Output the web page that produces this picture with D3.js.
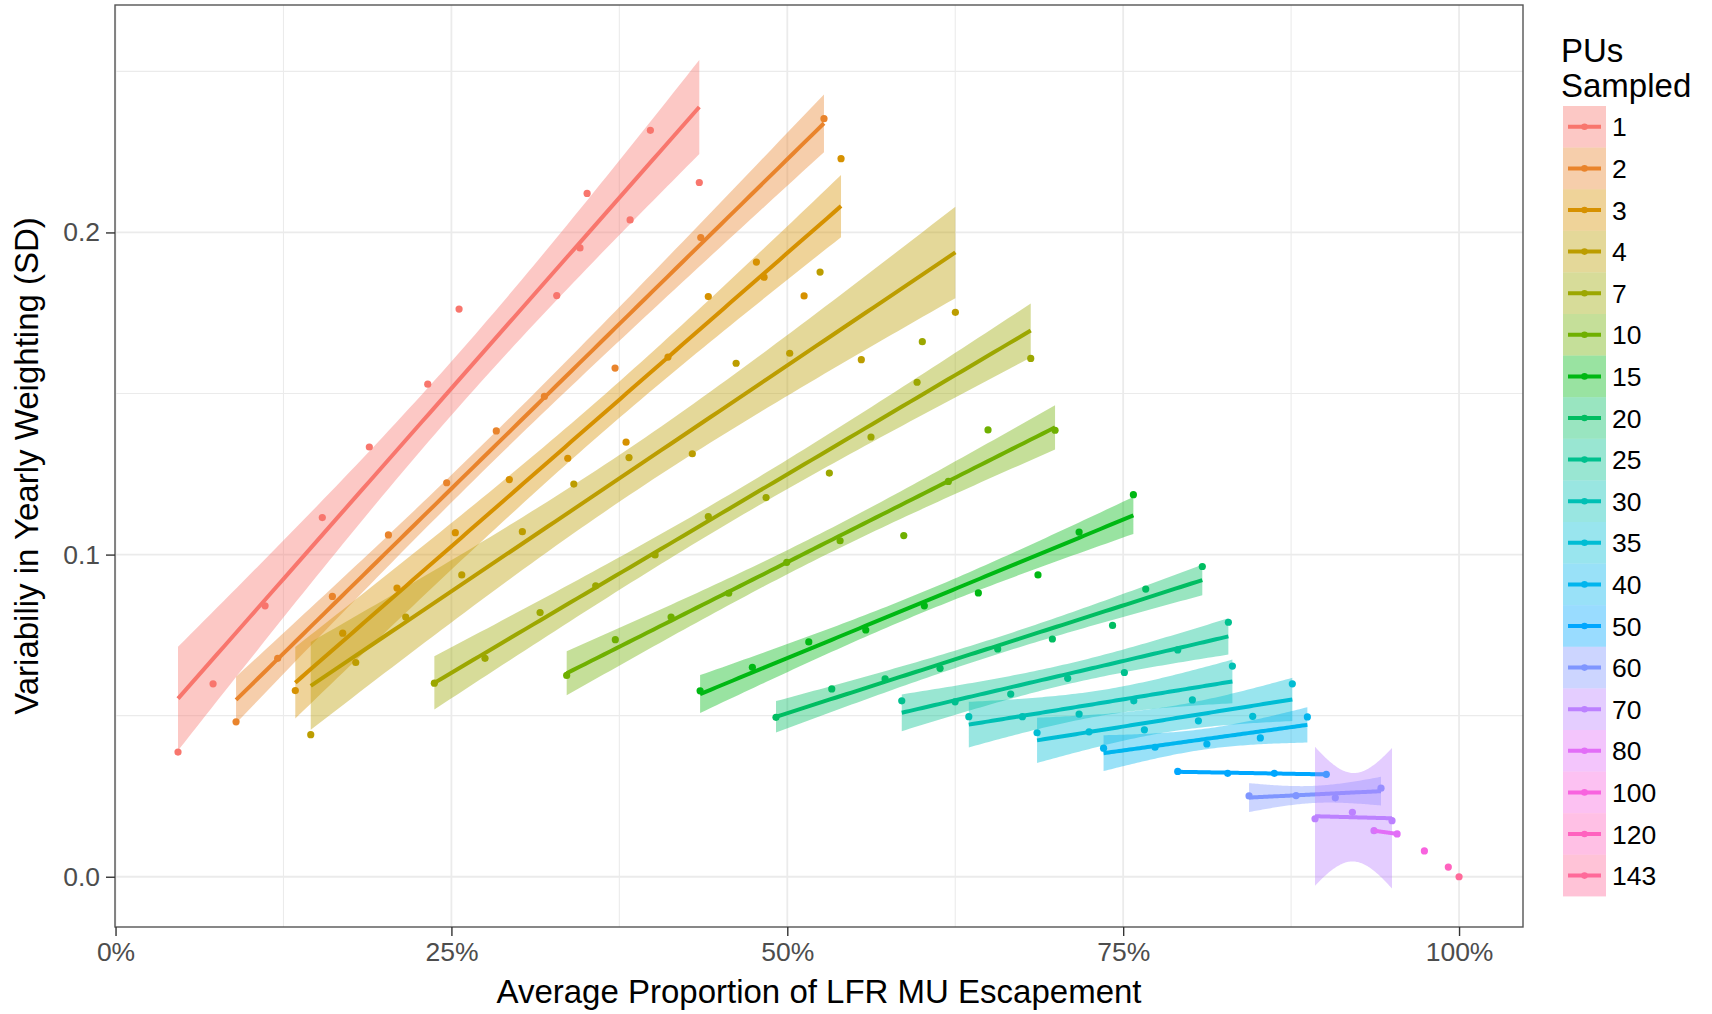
<!DOCTYPE html>
<html>
<head>
<meta charset="utf-8">
<script src="https://cdn.jsdelivr.net/npm/d3@7"></script>
<style>
body { margin: 0; background: #fff; }
text { font-family: "Liberation Sans", Arial, Helvetica, sans-serif; }
</style>
</head>
<body>
<div id="chart"></div>
<script>
// PUs sampled groups
var groups = ["1", "2", "3", "4", "7", "10", "15", "20", "25", "30", "35", "40", "50", "60", "70", "80", "100", "120", "143"];

// average proportion of LFR MU escapement, one array per group
var xByGroup = [
    [0.0465, 0.0726, 0.1113, 0.1539, 0.1889, 0.2324, 0.2557, 0.3284, 0.3457, 0.3510, 0.3830, 0.3981, 0.4345],
    [0.0897, 0.1207, 0.1614, 0.2031, 0.2465, 0.2834, 0.3192, 0.3718, 0.4356, 0.5273],
    [0.1338, 0.1691, 0.2095, 0.2529, 0.2931, 0.3366, 0.3800, 0.4112, 0.4412, 0.4770, 0.4827, 0.5125, 0.5400],
    [0.1453, 0.1788, 0.2160, 0.2577, 0.3028, 0.3411, 0.3822, 0.4293, 0.4619, 0.5018, 0.5244, 0.5551, 0.6251],
    [0.2373, 0.2750, 0.3160, 0.3574, 0.4016, 0.4412, 0.4842, 0.5313, 0.5623, 0.5966, 0.6005, 0.6812],
    [0.3358, 0.3720, 0.4135, 0.4564, 0.4996, 0.5393, 0.5867, 0.6199, 0.6494, 0.6993],
    [0.4351, 0.4740, 0.5160, 0.5584, 0.6020, 0.6422, 0.6866, 0.7172, 0.7576],
    [0.4916, 0.5331, 0.5728, 0.6137, 0.6566, 0.6973, 0.7421, 0.7668, 0.8089],
    [0.5852, 0.6249, 0.6663, 0.7087, 0.7509, 0.7906, 0.8283],
    [0.6351, 0.6750, 0.7172, 0.7579, 0.8015, 0.8313],
    [0.6859, 0.7246, 0.7658, 0.8060, 0.8464, 0.8759],
    [0.7354, 0.7737, 0.8123, 0.8521, 0.8871],
    [0.7906, 0.8278, 0.8625, 0.9012],
    [0.8437, 0.8787, 0.9079, 0.9419],
    [0.8928, 0.9206, 0.9501],
    [0.9367, 0.9539],
    [0.9742],
    [0.9920],
    [1.0]
];

// variability in yearly weighting (SD), one array per group
var yByGroup = [
    [0.0387, 0.0599, 0.0841, 0.1115, 0.1334, 0.1529, 0.1762, 0.1804, 0.1952, 0.2121, 0.2039, 0.2317, 0.2155],
    [0.0481, 0.0678, 0.0870, 0.1061, 0.1223, 0.1384, 0.1491, 0.1579, 0.1984, 0.2353],
    [0.0578, 0.0756, 0.0896, 0.1068, 0.1233, 0.1299, 0.1349, 0.1613, 0.1801, 0.1908, 0.1861, 0.1803, 0.2229],
    [0.0441, 0.0665, 0.0806, 0.0937, 0.1071, 0.1219, 0.1301, 0.1313, 0.1594, 0.1625, 0.1877, 0.1605, 0.1752],
    [0.0601, 0.0678, 0.0820, 0.0903, 0.0999, 0.1118, 0.1177, 0.1253, 0.1365, 0.1535, 0.1661, 0.1609],
    [0.0625, 0.0736, 0.0806, 0.0880, 0.0976, 0.1043, 0.1059, 0.1227, 0.1387, 0.1386],
    [0.0577, 0.0650, 0.0729, 0.0766, 0.0841, 0.0881, 0.0937, 0.1070, 0.1186],
    [0.0495, 0.0583, 0.0614, 0.0647, 0.0707, 0.0738, 0.0780, 0.0893, 0.0963],
    [0.0546, 0.0543, 0.0567, 0.0616, 0.0634, 0.0704, 0.0790],
    [0.0497, 0.0497, 0.0505, 0.0546, 0.0549, 0.0654],
    [0.0447, 0.0450, 0.0456, 0.0484, 0.0498, 0.0599],
    [0.0399, 0.0402, 0.0412, 0.0431, 0.0496],
    [0.0327, 0.0321, 0.0321, 0.0318],
    [0.0251, 0.0252, 0.0245, 0.0275],
    [0.0180, 0.0200, 0.0174],
    [0.0143, 0.0133],
    [0.0080],
    [0.0030],
    [0.0]
];

var xTicks = [0, 0.25, 0.5, 0.75, 1];
var xMinor = [0.125, 0.375, 0.625, 0.875];
var yTicks = [0, 0.1, 0.2];
var yMinor = [0.05, 0.15, 0.25];

// qt(0.975, df) for df = 1..11
var tCrit = [12.706, 4.303, 3.182, 2.776, 2.571, 2.447, 2.365, 2.306, 2.262, 2.228, 2.201];

var width = 1712, height = 1014;
var panel = {left: 115, right: 1523, top: 5, bottom: 927};

// R's hcl() (polar LUV) so colours match ggplot's hue palette
function hclLuv(h, c, l) {
    var hr = h * Math.PI / 180;
    var U = c * Math.cos(hr), V = c * Math.sin(hr);
    var Xn = 95.047, Yn = 100, Zn = 108.883;
    var Y = Yn * Math.pow((l + 16) / 116, 3);
    var den = Xn + 15 * Yn + 3 * Zn;
    var un = 4 * Xn / den, vn = 9 * Yn / den;
    var u = U / (13 * l) + un, v = V / (13 * l) + vn;
    var X = 9 * Y * u / (4 * v);
    var Z = Y * (12 - 3 * u - 20 * v) / (4 * v);
    X /= 100; Y /= 100; Z /= 100;
    var rgb = [
        3.240479 * X - 1.537150 * Y - 0.498535 * Z,
        -0.969256 * X + 1.875992 * Y + 0.041556 * Z,
        0.055648 * X - 0.204043 * Y + 1.057311 * Z
    ].map(function (c) {
        c = c <= 0.0031308 ? 12.92 * c : 1.055 * Math.pow(c, 1 / 2.4) - 0.055;
        return Math.round(Math.max(0, Math.min(1, c)) * 255);
    });
    return d3.rgb(rgb[0], rgb[1], rgb[2]).formatHex();
}

var colors = groups.map(function (g, i) {
    return hclLuv(15 + i * 360 / groups.length, 100, 65);
});

// lm fit with 95% confidence band, like geom_smooth(method = "lm")
function fitGroup(xs, ys) {
    var n = xs.length;
    if (n < 2) return null;
    var mx = d3.mean(xs), my = d3.mean(ys);
    var sxx = d3.sum(xs, function (x) { return (x - mx) * (x - mx); });
    var sxy = d3.sum(xs, function (x, i) { return (x - mx) * (ys[i] - my); });
    var b = sxy / sxx, a = my - b * mx;
    var s = null;
    if (n > 2) {
        var rss = d3.sum(xs, function (x, i) { var r = ys[i] - (a + b * x); return r * r; });
        s = Math.sqrt(rss / (n - 2));
    }
    var lo = d3.min(xs), hi = d3.max(xs);
    var pts = d3.range(80).map(function (k) {
        var x = lo + (hi - lo) * k / 79;
        var f = a + b * x;
        var p = {x: x, y: f};
        if (s !== null) {
            var se = s * Math.sqrt(1 / n + (x - mx) * (x - mx) / sxx);
            var w = tCrit[n - 3] * se;
            p.lo = f - w;
            p.hi = f + w;
        }
        return p;
    });
    return {pts: pts, band: s !== null};
}

var svg = d3.select("#chart").append("svg")
    .attr("width", width)
    .attr("height", height);

svg.append("rect").attr("width", width).attr("height", height).attr("fill", "#fff");

var x = d3.scaleLinear().domain([-0.0004, 1.0476]).range([panel.left, panel.right]);
var y = d3.scaleLinear().domain([-0.0156, 0.2706]).range([panel.bottom, panel.top]);

var grid = svg.append("g");
grid.selectAll(".xminor").data(xMinor).enter().append("line")
    .attr("x1", function (d) { return x(d); }).attr("x2", function (d) { return x(d); })
    .attr("y1", panel.top).attr("y2", panel.bottom)
    .attr("stroke", "#ebebeb").attr("stroke-width", 1.1);
grid.selectAll(".yminor").data(yMinor).enter().append("line")
    .attr("y1", function (d) { return y(d); }).attr("y2", function (d) { return y(d); })
    .attr("x1", panel.left).attr("x2", panel.right)
    .attr("stroke", "#ebebeb").attr("stroke-width", 1.1);
grid.selectAll(".xmajor").data(xTicks).enter().append("line")
    .attr("x1", function (d) { return x(d); }).attr("x2", function (d) { return x(d); })
    .attr("y1", panel.top).attr("y2", panel.bottom)
    .attr("stroke", "#ebebeb").attr("stroke-width", 1.8);
grid.selectAll(".ymajor").data(yTicks).enter().append("line")
    .attr("y1", function (d) { return y(d); }).attr("y2", function (d) { return y(d); })
    .attr("x1", panel.left).attr("x2", panel.right)
    .attr("stroke", "#ebebeb").attr("stroke-width", 1.8);

var plot = svg.append("g");

// points
groups.forEach(function (g, i) {
    plot.append("g").selectAll("circle")
        .data(xByGroup[i])
        .enter()
        .append("circle")
        .attr("cx", function (d) { return x(d); })
        .attr("cy", function (d, j) { return y(yByGroup[i][j]); })
        .attr("r", 3.6)
        .attr("fill", colors[i]);
});

// smooth: ribbon then line, group by group
var area = d3.area()
    .x(function (d) { return x(d.x); })
    .y0(function (d) { return y(d.lo); })
    .y1(function (d) { return y(d.hi); });
var line = d3.line()
    .x(function (d) { return x(d.x); })
    .y(function (d) { return y(d.y); });

groups.forEach(function (g, i) {
    var fit = fitGroup(xByGroup[i], yByGroup[i]);
    if (!fit) return;
    if (fit.band) {
        plot.append("path")
            .attr("d", area(fit.pts))
            .attr("fill", colors[i])
            .attr("fill-opacity", 0.4);
    }
    plot.append("path")
        .attr("d", line(fit.pts))
        .attr("fill", "none")
        .attr("stroke", colors[i])
        .attr("stroke-width", 4);
});

// panel border
svg.append("rect")
    .attr("x", panel.left).attr("y", panel.top)
    .attr("width", panel.right - panel.left).attr("height", panel.bottom - panel.top)
    .attr("fill", "none").attr("stroke", "#555").attr("stroke-width", 1.4);

// axes
var xAxis = svg.append("g")
    .attr("transform", "translate(0," + panel.bottom + ")")
    .call(d3.axisBottom(x).tickValues(xTicks).tickSize(9).tickPadding(6)
        .tickFormat(function (d) { return Math.round(d * 100) + "%"; }));
var yAxis = svg.append("g")
    .attr("transform", "translate(" + panel.left + ",0)")
    .call(d3.axisLeft(y).tickValues(yTicks).tickSize(9).tickPadding(6)
        .tickFormat(d3.format(".1f")));
[xAxis, yAxis].forEach(function (ax) {
    ax.select(".domain").remove();
    ax.selectAll(".tick line").attr("stroke", "#333").attr("stroke-width", 1.4);
    ax.selectAll(".tick text")
        .attr("fill", "#4d4d4d")
        .style("font-size", "26.5px")
        .style("font-family", "'Liberation Sans', Arial, sans-serif");
});
xAxis.selectAll(".tick text").attr("dy", "0.71em");

svg.append("text")
    .attr("x", (panel.left + panel.right) / 2)
    .attr("y", 1003)
    .attr("text-anchor", "middle")
    .style("font-size", "33px")
    .text("Average Proportion of LFR MU Escapement");

svg.append("text")
    .attr("transform", "translate(38," + (panel.top + panel.bottom) / 2 + ") rotate(-90)")
    .attr("text-anchor", "middle")
    .style("font-size", "33px")
    .text("Variabiliy in Yearly Weighting (SD)");

// legend
var legend = svg.append("g").attr("transform", "translate(1561,0)");
legend.append("text").attr("x", 0).attr("y", 62).style("font-size", "33px").text("PUs");
legend.append("text").attr("x", 0).attr("y", 97).style("font-size", "33px").text("Sampled");

var keyTop = 106, keyH = 41.6, keyW = 43;
var keys = legend.selectAll(".key")
    .data(groups)
    .enter()
    .append("g")
    .attr("transform", function (d, i) { return "translate(2," + (keyTop + i * keyH) + ")"; });
keys.append("rect")
    .attr("width", keyW).attr("height", keyH)
    .attr("fill", function (d, i) { return colors[i]; })
    .attr("fill-opacity", 0.4);
keys.append("line")
    .attr("x1", 5).attr("x2", keyW - 5)
    .attr("y1", keyH / 2).attr("y2", keyH / 2)
    .attr("stroke", function (d, i) { return colors[i]; })
    .attr("stroke-width", 4);
keys.append("circle")
    .attr("cx", keyW / 2).attr("cy", keyH / 2).attr("r", 3.3)
    .attr("fill", function (d, i) { return colors[i]; });
keys.append("text")
    .attr("x", keyW + 6)
    .attr("y", keyH / 2)
    .attr("dy", "0.36em")
    .style("font-size", "26.5px")
    .text(function (d) { return d; });
</script>
</body>
</html>
